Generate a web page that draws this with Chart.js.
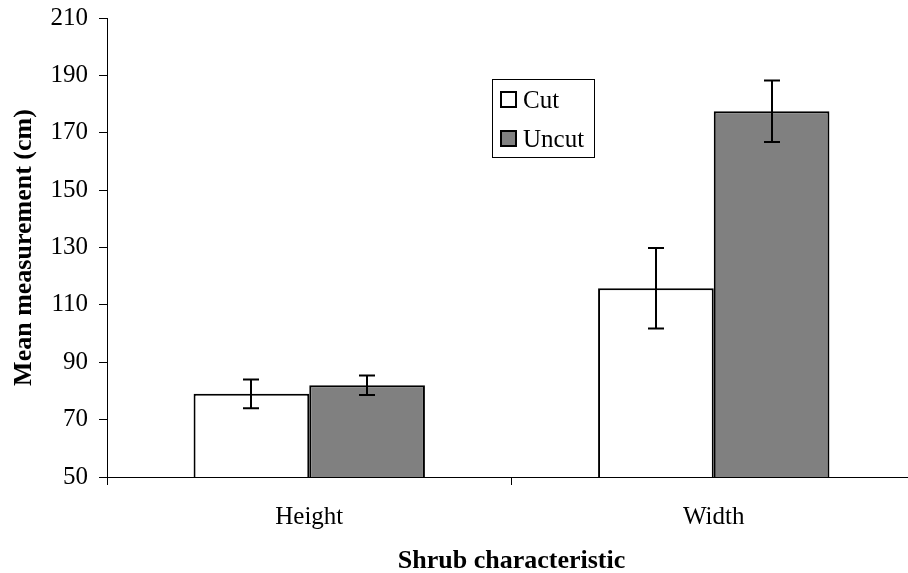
<!DOCTYPE html>
<html>
<head>
<meta charset="utf-8">
<script src="https://cdn.jsdelivr.net/npm/chart.js@4"></script>
<style>
  html, body { margin: 0; padding: 0; background: #fff; overflow: hidden; }
  #wrap { width: 916px; height: 577px; position: relative; }
</style>
</head>
<body>
<div id="wrap"><canvas id="shrubChart"></canvas></div>
<script>
var categories = ['Height', 'Width'];
var seriesNames = ['Cut', 'Uncut'];
var cutMeans = [79, 115.8];
var uncutMeans = [82, 177.5];
var cutErrors = [5, 14];
var uncutErrors = [3.4, 10.7];
var yTicks = [50, 70, 90, 110, 130, 150, 170, 190, 210];

var serif = 'Liberation Serif, Times New Roman, serif';

// error bars drawn from the dataset's own errors through the y scale
var errorBars = {
    id: 'errorBars',
    afterDatasetsDraw: function(chart) {
        var ctx = chart.ctx;
        var yScale = chart.scales.y;
        ctx.save();
        ctx.strokeStyle = '#000';
        ctx.lineWidth = 2;
        chart.data.datasets.forEach(function(ds, i) {
            var meta = chart.getDatasetMeta(i);
            meta.data.forEach(function(bar, j) {
                var hi = yScale.getPixelForValue(ds.data[j] + ds.errors[j]);
                var lo = yScale.getPixelForValue(ds.data[j] - ds.errors[j]);
                var x = Math.round(bar.x);
                ctx.beginPath();
                ctx.moveTo(x, hi); ctx.lineTo(x, lo);
                ctx.moveTo(x - 8, hi); ctx.lineTo(x + 8, hi);
                ctx.moveTo(x - 8, lo); ctx.lineTo(x + 8, lo);
                ctx.stroke();
            });
        });
        ctx.restore();
    }
};

// boxed legend inside the plot, like the original
var boxLegend = {
    id: 'boxLegend',
    afterDraw: function(chart) {
        var ctx = chart.ctx;
        var left = 492, top = 79.5, w = 102, h = 78;
        ctx.save();
        ctx.fillStyle = '#fff';
        ctx.fillRect(left, top, w, h);
        ctx.strokeStyle = '#000';
        ctx.lineWidth = 1;
        ctx.strokeRect(left + 0.5, top, w, h);
        ctx.font = '25px ' + serif;
        ctx.textBaseline = 'middle';
        chart.data.datasets.forEach(function(ds, i) {
            var cy = top + 20.5 + i * 39;
            ctx.fillStyle = ds.backgroundColor;
            ctx.fillRect(501, cy - 8, 15, 15);
            ctx.lineWidth = 2;
            ctx.strokeRect(501, cy - 8, 15, 15);
            ctx.fillStyle = '#000';
            ctx.fillText(ds.label, 523, cy + 1);
        });
        ctx.restore();
    }
};

var ctxShrub = document.getElementById('shrubChart').getContext('2d');

var shrubChart = new Chart(ctxShrub, {
    type: 'bar',
    data: {
        labels: categories,
        datasets: [{
            label: seriesNames[0],
            data: cutMeans,
            errors: cutErrors,
            backgroundColor: '#ffffff',
            borderColor: '#000000',
            borderWidth: 2
        }, {
            label: seriesNames[1],
            data: uncutMeans,
            errors: uncutErrors,
            backgroundColor: '#808080',
            borderColor: '#000000',
            borderWidth: 2
        }]
    },
    options: {
        responsive: true,
        maintainAspectRatio: false,
        animation: false,
        layout: {
            padding: { left: 0, right: 0, top: 18, bottom: 0 }
        },
        datasets: {
            bar: { categoryPercentage: 0.572, barPercentage: 1.0 }
        },
        plugins: {
            legend: { display: false },
            tooltip: { enabled: false }
        },
        scales: {
            x: {
                afterFit: function(scale) { scale.height = 100; },
                grid: { display: true, drawOnChartArea: false, tickLength: 8, color: '#000' },
                border: { color: '#000', width: 1 },
                ticks: { color: '#000', padding: 17, font: { family: serif, size: 25 } },
                title: {
                    display: true,
                    text: 'Shrub characteristic',
                    color: '#000',
                    padding: { top: 0, bottom: 0 },
                    font: { family: serif, size: 26, weight: 'bold' }
                }
            },
            y: {
                min: 50,
                max: 210,
                afterFit: function(scale) {
                    scale.width = 107;
                    scale.paddingTop = 0;
                    scale.paddingBottom = 0;
                },
                afterBuildTicks: function(scale) {
                    scale.ticks = yTicks.map(function(v) { return { value: v }; });
                },
                grid: { display: true, drawOnChartArea: false, tickLength: 8, color: '#000' },
                border: { color: '#000', width: 1 },
                ticks: { color: '#000', padding: 11, font: { family: serif, size: 25 } },
                title: {
                    display: true,
                    text: 'Mean measurement (cm)',
                    color: '#000',
                    padding: { top: 9, bottom: 0 },
                    font: { family: serif, size: 26, weight: 'bold' }
                }
            }
        }
    },
    plugins: [errorBars, boxLegend]
});
</script>
</body>
</html>
